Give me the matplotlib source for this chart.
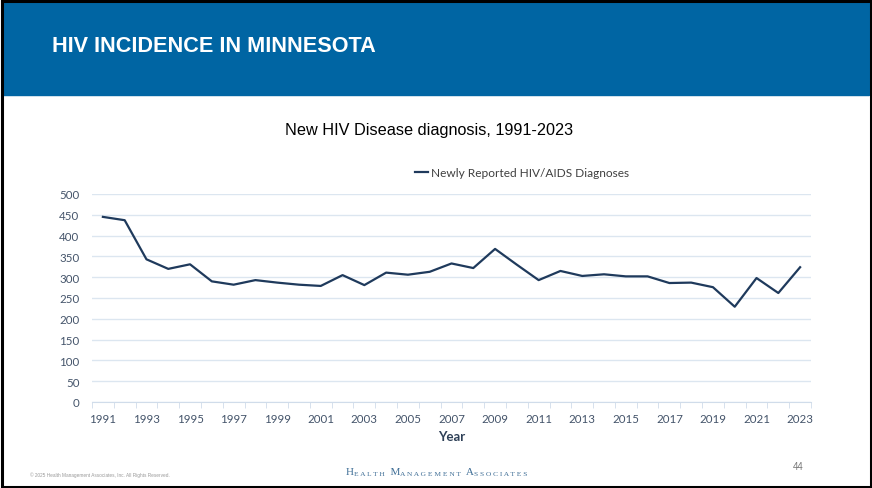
import matplotlib.pyplot as plt
from matplotlib.patches import Rectangle

# data
years = list(range(1991, 2024))
diagnoses = [445, 437, 343, 320, 331, 290, 282, 293, 287, 282,
             279, 305, 281, 311, 306, 313, 333, 322, 368, 330,
             293, 315, 303, 307, 302, 302, 286, 287, 276, 229,
             298, 262, 324]
series_name = "Newly Reported HIV/AIDS Diagnoses"
slide_title = "HIV INCIDENCE IN MINNESOTA"
chart_title = "New HIV Disease diagnosis, 1991-2023"
footer_words = ["Health", "Management", "Associates"]
yticks = [0, 50, 100, 150, 200, 250, 300, 350, 400, 450, 500]

W, H = 872, 489
fig = plt.figure(figsize=(W / 100, H / 100), dpi=100)

# slide header + frame
fig.patches.append(Rectangle((3 / W, 1 - 96 / H), 866 / W, 93 / H,
                             transform=fig.transFigure, color="#0065A3", zorder=0))
fig.patches.append(Rectangle((1.5 / W, 1.5 / H), (W - 3) / W, (H - 3) / H,
                             transform=fig.transFigure, fill=False,
                             edgecolor="black", linewidth=2.2, zorder=5))
fig.text(52 / W, 1 - 46 / H, slide_title, color="white", fontsize=15.6,
         fontweight="bold", family="Liberation Sans", va="center", ha="left")
fig.text(429 / W, 1 - 131 / H, chart_title, color="black", fontsize=11.7,
         family="Liberation Sans", va="center", ha="center")

ax = fig.add_axes([92 / W, 1 - 403 / H, (811 - 92) / W, (403 - 195) / H])
ax.plot(years, diagnoses, color="#1F3A5C", linewidth=1.6, label=series_name)
ax.set_xlim(1990.5, 2023.5)
ax.set_ylim(0, 500)
ax.set_yticks(yticks)
ax.set_xticks(years[::2])
ax.set_xticks([y + 0.5 for y in range(1990, 2024)], minor=True)
ax.grid(axis="y", color="#DCE6F0", linewidth=1)
ax.set_axisbelow(True)
for s in ["top", "right", "left"]:
    ax.spines[s].set_visible(False)
ax.spines["bottom"].set_color("#D0DCEA")
ax.tick_params(axis="y", length=0, pad=9, labelsize=8.3, labelcolor="#44546A")
ax.tick_params(axis="x", which="major", length=0, pad=8, labelsize=8.3,
               labelcolor="#44546A")
ax.tick_params(axis="x", which="minor", length=4, color="#D0DCEA")
for lab in ax.get_xticklabels() + ax.get_yticklabels():
    lab.set_family("Lato")
ax.set_xlabel("Year", fontsize=9.5, fontweight="bold", color="#2E4057",
              family="Lato", labelpad=4)
ax.legend(loc="center", bbox_to_anchor=(522 / W, 1 - 174 / H),
          bbox_transform=fig.transFigure, frameon=False,
          handlelength=1.1, handletextpad=0.2,
          prop={"family": "Lato", "size": 8.6}, labelcolor="#404040")

# footer
fig.text(30 / W, 1 - 475 / H,
         "\u00a9 2025 Health Management Associates, Inc. All Rights Reserved.",
         fontsize=3.4, color="#999999", va="center", ha="left",
         family="Liberation Sans")

# small-caps wordmark, built piece by piece
prev = fig.text(346 / W, 1 - 477 / H, "", fontsize=8, va="baseline")
for i, word in enumerate(footer_words):
    first = word[0]
    rest = " ".join(word[1:].upper())
    if i > 0:
        first = "  " + first
    prev = ax.annotate(first, xy=(1, 0), xycoords=prev, fontsize=8,
                       color="#3F6E96", family="Liberation Serif",
                       va="bottom", ha="left", annotation_clip=False)
    prev = ax.annotate(rest, xy=(1, 0), xycoords=prev, fontsize=5.4,
                       color="#3F6E96", family="Liberation Serif",
                       va="bottom", ha="left", annotation_clip=False)

fig.text(798 / W, 1 - 467 / H, "44", fontsize=7, color="#777777",
         va="center", ha="center", family="Liberation Sans")

fig.savefig("out.png", dpi=100)
